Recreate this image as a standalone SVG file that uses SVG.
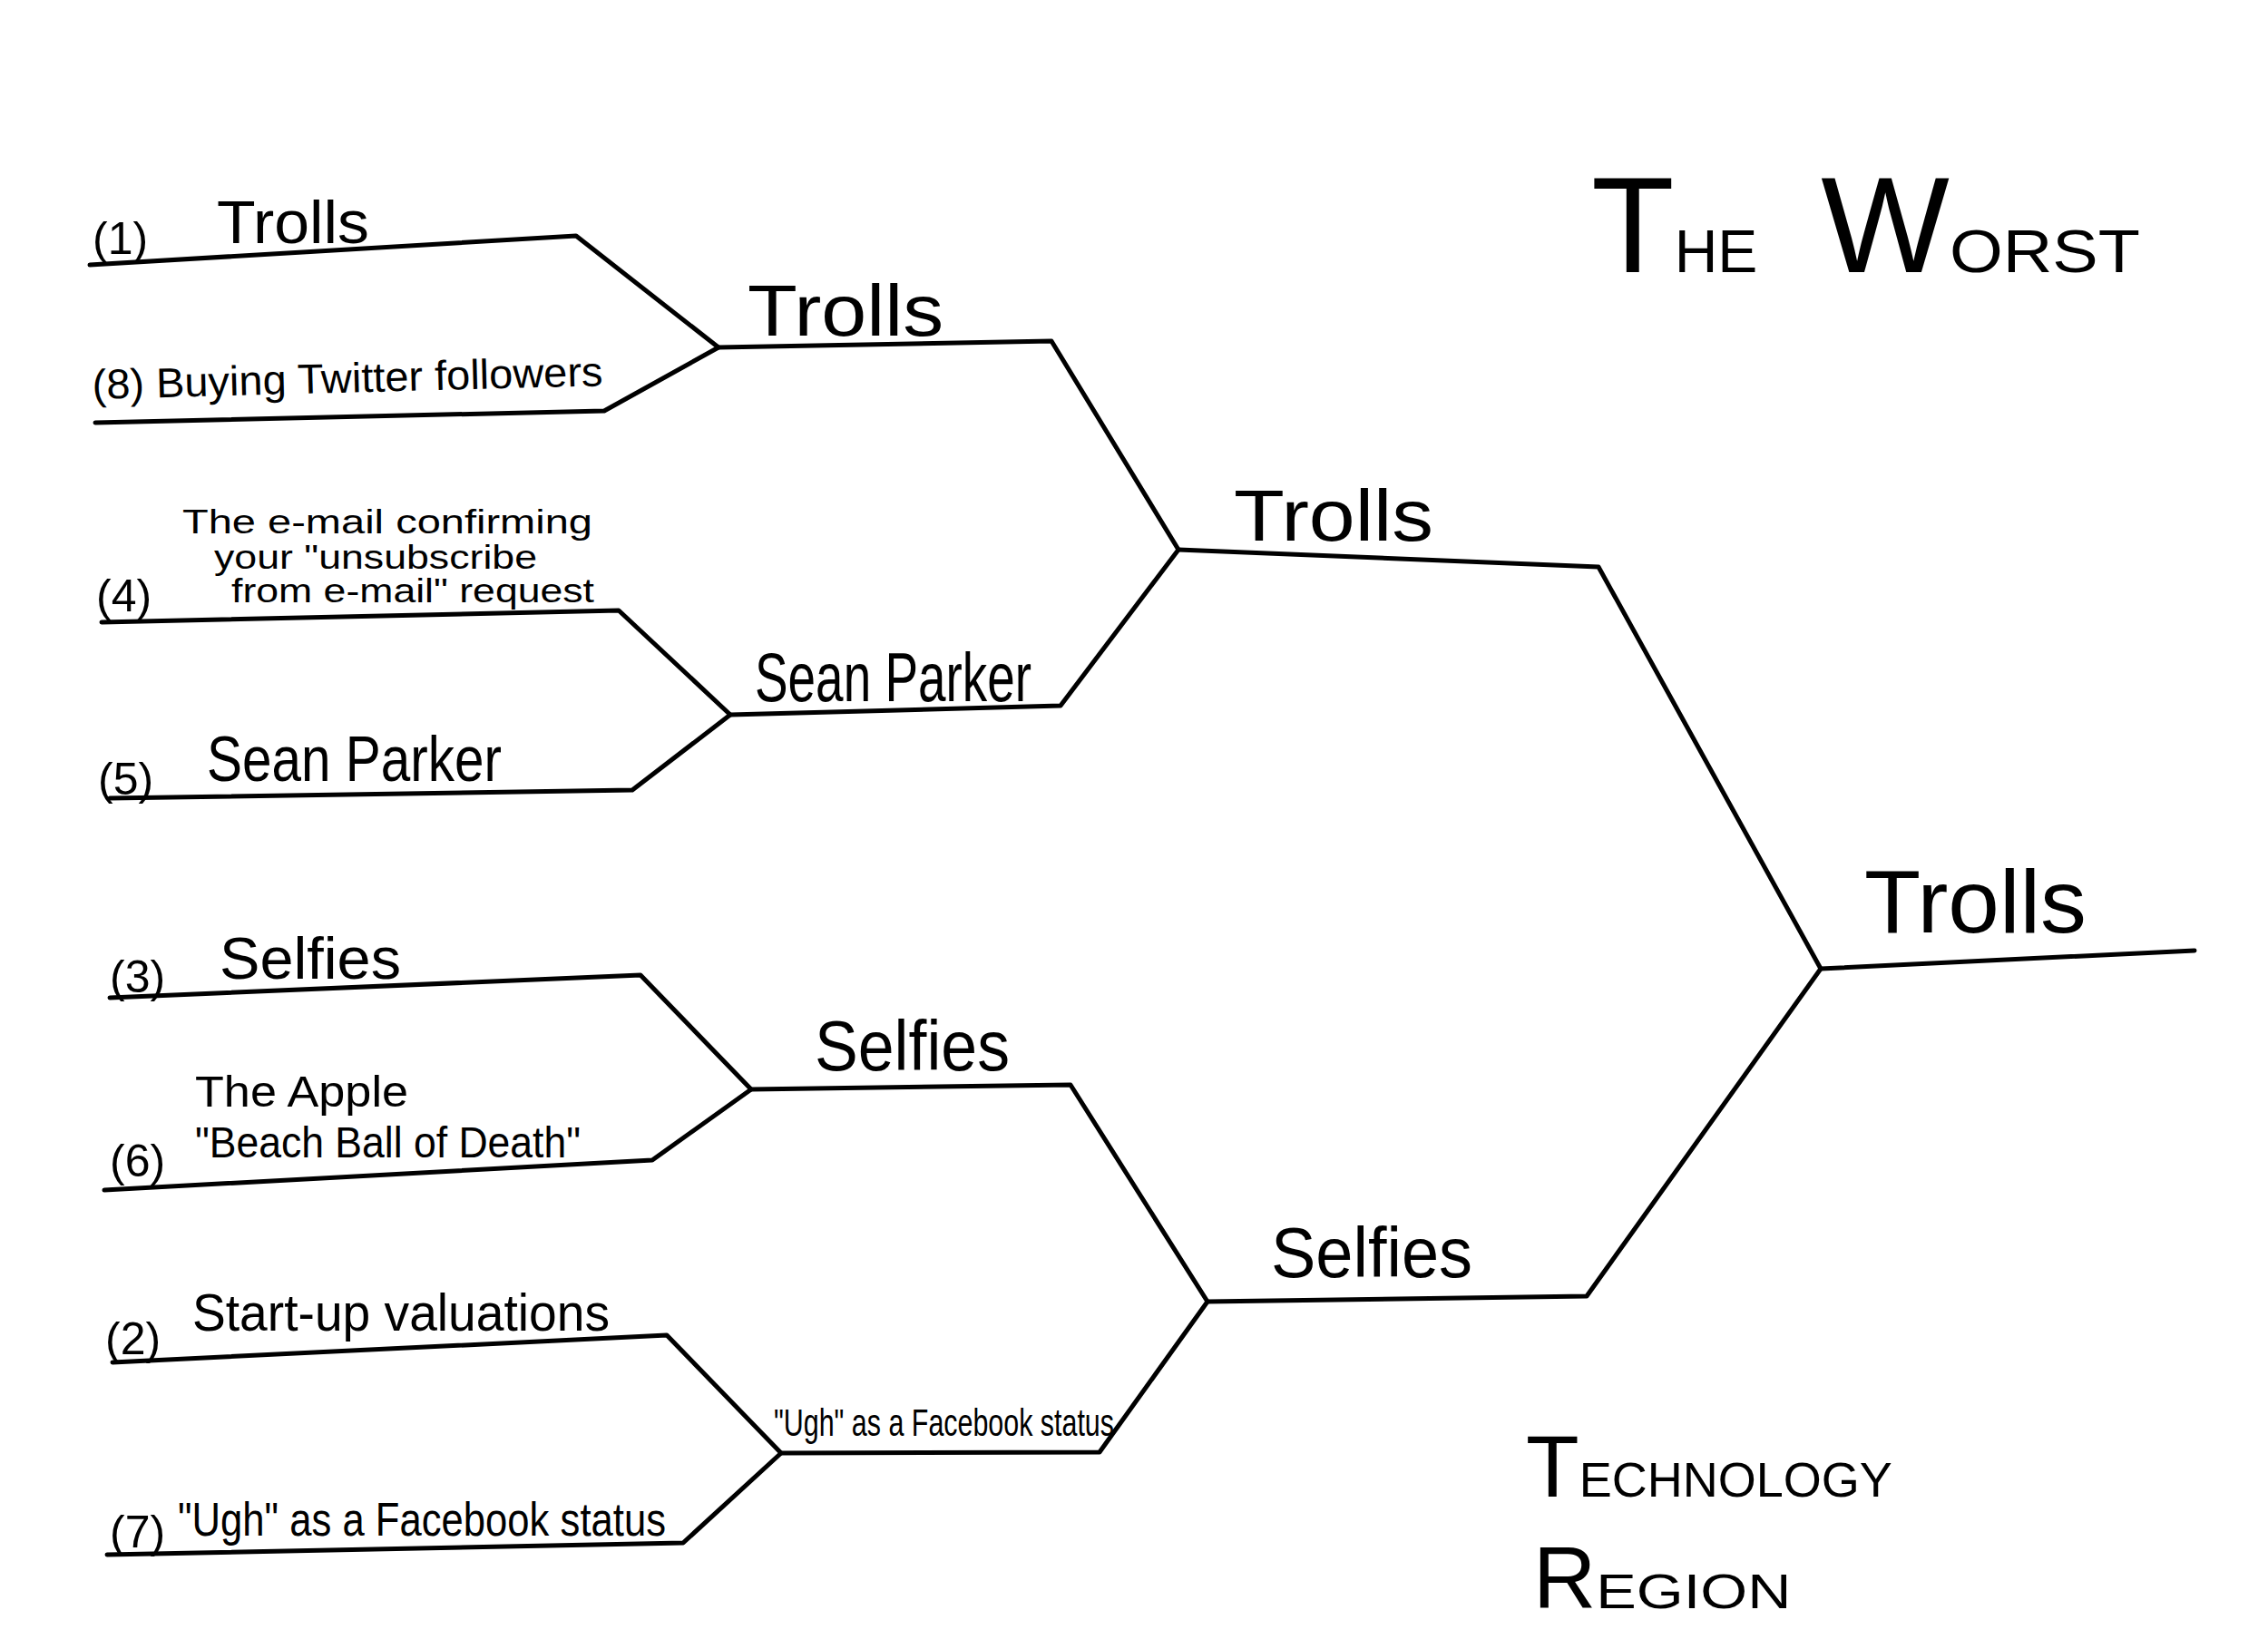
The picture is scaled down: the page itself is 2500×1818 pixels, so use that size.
<svg xmlns="http://www.w3.org/2000/svg" width="2500" height="1818" viewBox="0 0 2500 1818">
<style>
.ln{fill:none;stroke:#000;stroke-width:5;stroke-linejoin:round;stroke-linecap:round}
text{font-family:"Liberation Sans",Arial,sans-serif;fill:#000}
.n{font-size:50px}
</style>
<rect width="2500" height="1818" fill="#fff"/>
<g id="connectors">
<polyline class="ln" points="99,292 635,260 792,383 666,453 105,466"/>
<polyline class="ln" points="112,686 682,673 805,788 697,871 121,880"/>
<polyline class="ln" points="792,383 1159,376 1299,606 1169,778 805,788"/>
<polyline class="ln" points="1299,606 1762,625 2007,1068 1749,1429 1331,1435"/>
<polyline class="ln" points="2007,1068 2419,1048"/>
<polyline class="ln" points="121,1100 706,1075 828,1201 719,1279 115,1312"/>
<polyline class="ln" points="124,1502 735,1472 861,1602 753,1701 118,1714"/>
<polyline class="ln" points="828,1201 1180,1196 1331,1435 1212,1601 861,1602"/>
</g>
<g id="title">
<text x="1754" y="300"><tspan font-size="150">T</tspan><tspan font-size="66">HE</tspan><tspan font-size="150" dx="70">W</tspan><tspan font-size="66" textLength="210" lengthAdjust="spacingAndGlyphs">ORST</tspan></text>
</g>
<g id="region">
<text x="1682" y="1650"><tspan font-size="96">T</tspan><tspan font-size="54">ECHNOLOGY</tspan></text>
<text x="1690" y="1773"><tspan font-size="96">R</tspan><tspan font-size="54" textLength="215" lengthAdjust="spacingAndGlyphs">EGION</tspan></text>
</g>
<g id="seed1">
<text class="n" x="102" y="280">(1)</text>
<text x="239" y="268" font-size="66" textLength="168" lengthAdjust="spacingAndGlyphs">Trolls</text>
</g>
<g id="seed8">
<text x="102" y="440" font-size="46" textLength="563" lengthAdjust="spacingAndGlyphs" transform="rotate(-1.5 102 440)">(8) Buying Twitter followers</text>
</g>
<g id="seed4">
<text class="n" x="106" y="674">(4)</text>
<text x="201" y="588" font-size="36" textLength="452" lengthAdjust="spacingAndGlyphs">The e-mail confirming</text>
<text x="236" y="627" font-size="36" textLength="356" lengthAdjust="spacingAndGlyphs">your "unsubscribe</text>
<text x="255" y="664" font-size="36" textLength="400" lengthAdjust="spacingAndGlyphs">from e-mail" request</text>
</g>
<g id="seed5">
<text class="n" x="108" y="876">(5)</text>
<text x="228" y="861" font-size="70" textLength="325" lengthAdjust="spacingAndGlyphs">Sean Parker</text>
</g>
<g id="seed3">
<text class="n" x="121" y="1094">(3)</text>
<text x="242" y="1079" font-size="64" textLength="200" lengthAdjust="spacingAndGlyphs">Selfies</text>
</g>
<g id="seed6">
<text class="n" x="121" y="1297">(6)</text>
<text x="215" y="1220" font-size="48" textLength="235" lengthAdjust="spacingAndGlyphs">The Apple</text>
<text x="215" y="1276" font-size="48" textLength="425" lengthAdjust="spacingAndGlyphs">"Beach Ball of Death"</text>
</g>
<g id="seed2">
<text class="n" x="116" y="1493">(2)</text>
<text x="212" y="1467" font-size="58" textLength="460" lengthAdjust="spacingAndGlyphs">Start-up valuations</text>
</g>
<g id="seed7">
<text class="n" x="121" y="1706">(7)</text>
<text x="196" y="1693" font-size="52" textLength="538" lengthAdjust="spacingAndGlyphs">"Ugh" as a Facebook status</text>
</g>
<g id="r2-trolls">
<text x="824" y="370" font-size="80" textLength="216" lengthAdjust="spacingAndGlyphs">Trolls</text>
</g>
<g id="r2-sean">
<text x="832" y="773" font-size="76" textLength="305" lengthAdjust="spacingAndGlyphs">Sean Parker</text>
</g>
<g id="r2-selfies">
<text x="898" y="1180" font-size="78" textLength="215" lengthAdjust="spacingAndGlyphs">Selfies</text>
</g>
<g id="r2-ugh">
<text x="853" y="1583" font-size="42" textLength="375" lengthAdjust="spacingAndGlyphs">"Ugh" as a Facebook status</text>
</g>
<g id="r3-trolls">
<text x="1360" y="596" font-size="80" textLength="220" lengthAdjust="spacingAndGlyphs">Trolls</text>
</g>
<g id="r3-selfies">
<text x="1401" y="1408" font-size="78" textLength="222" lengthAdjust="spacingAndGlyphs">Selfies</text>
</g>
<g id="champion">
<text x="2055" y="1028" font-size="98" textLength="245" lengthAdjust="spacingAndGlyphs">Trolls</text>
</g>
</svg>
